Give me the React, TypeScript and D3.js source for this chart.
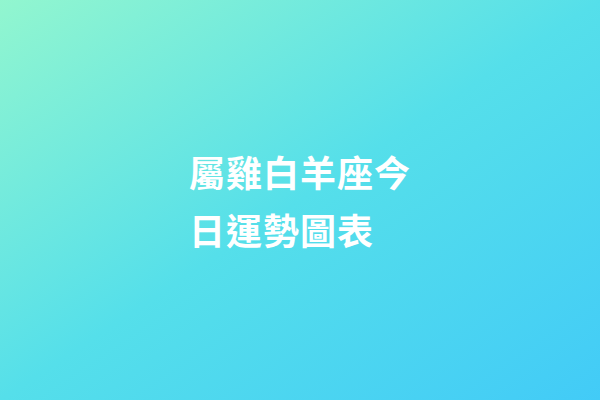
import React from 'react';
import * as d3 from 'd3';

// Title lines shown on the card
const titleLines: string[] = ['屬雞白羊座今', '日運勢圖表'];

// Gradient stops (offset, colour) from top-left to bottom-right
const stopOffsets: number[] = [0, 0.5, 1];
const stopColors: string[] = ['#92f6cf', '#55dfea', '#42cbf7'];

const width = 600;
const height = 400;

export default function App() {
  const lineY = d3
    .scaleLinear()
    .domain([0, titleLines.length - 1])
    .range([187, 245]);

  return (
    <svg
      width={width}
      height={height}
      viewBox={`0 0 ${width} ${height}`}
      style={{ display: 'block', position: 'absolute', left: 0, top: 0 }}
    >
      <defs>
        <linearGradient id="bg" x1="0" y1="0" x2="1" y2="1">
          {stopOffsets.map((o, i) => (
            <stop key={i} offset={o} stopColor={stopColors[i]} />
          ))}
        </linearGradient>
      </defs>
      <rect x={0} y={0} width={width} height={height} fill="url(#bg)" />
      {titleLines.map((t, i) => (
        <text
          key={i}
          x={189}
          y={lineY(i)}
          fill="#ffffff"
          fontSize={36}
          letterSpacing={1}
          fontWeight="bold"
          fontFamily="'Noto Sans CJK TC', 'Noto Sans CJK SC', sans-serif"
        >
          {t}
        </text>
      ))}
    </svg>
  );
}
